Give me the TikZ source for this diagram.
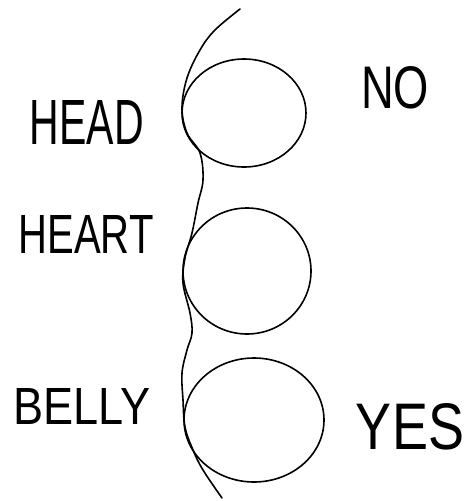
\documentclass[tikz,border=0pt]{standalone}
\usepackage{fontspec}
\usepackage{graphicx}
\setmainfont{Liberation Sans}
\usetikzlibrary{shapes.geometric}
\tikzset{
  blob/.style={draw, ellipse, line width=1.6pt, inner sep=0pt},
  word/.style={inner sep=0pt, anchor=center},
  stroke/.style={line width=1.6pt, line cap=round, line join=round}
}
\newcommand{\handword}[3]{\resizebox{#1pt}{#2pt}{#3}}
\begin{document}
\begin{tikzpicture}[x=1pt,y=-1pt]
\useasboundingbox (0,0) rectangle (467,501);
% circles
\node[blob, minimum width=124pt, minimum height=108pt] (head) at (244,113) {};
\node[blob, minimum width=128pt, minimum height=126pt] (heart) at (247,271) {};
\node[blob, minimum width=140pt, minimum height=124pt] (belly) at (254,420) {};
% wavy spine
\draw[stroke] plot[smooth, tension=0.6] coordinates {
  (240,9) (215,30) (200,50) (187,78) (182,108) (187,133) (200,153)
  (203,180) (198,203) (192,233) (185,258) (183,283) (190,313)
  (192,333) (187,350) (182,373) (183,400) (185,427) (193,450)
  (203,470) (222,498)};
% labels
\node[word] (lhead) at (87,122) {\handword{114}{44}{HEAD}};
\node[word] (lheart) at (86,234) {\handword{135}{38}{HEART}};
\node[word] (lbelly) at (82,406) {\handword{137}{36}{BELLY}};
\node[word] (lno) at (395,88) {\handword{68}{42}{NO}};
\node[word] (lyes) at (410,427) {\handword{108}{46}{YES}};
\end{tikzpicture}
\end{document}
